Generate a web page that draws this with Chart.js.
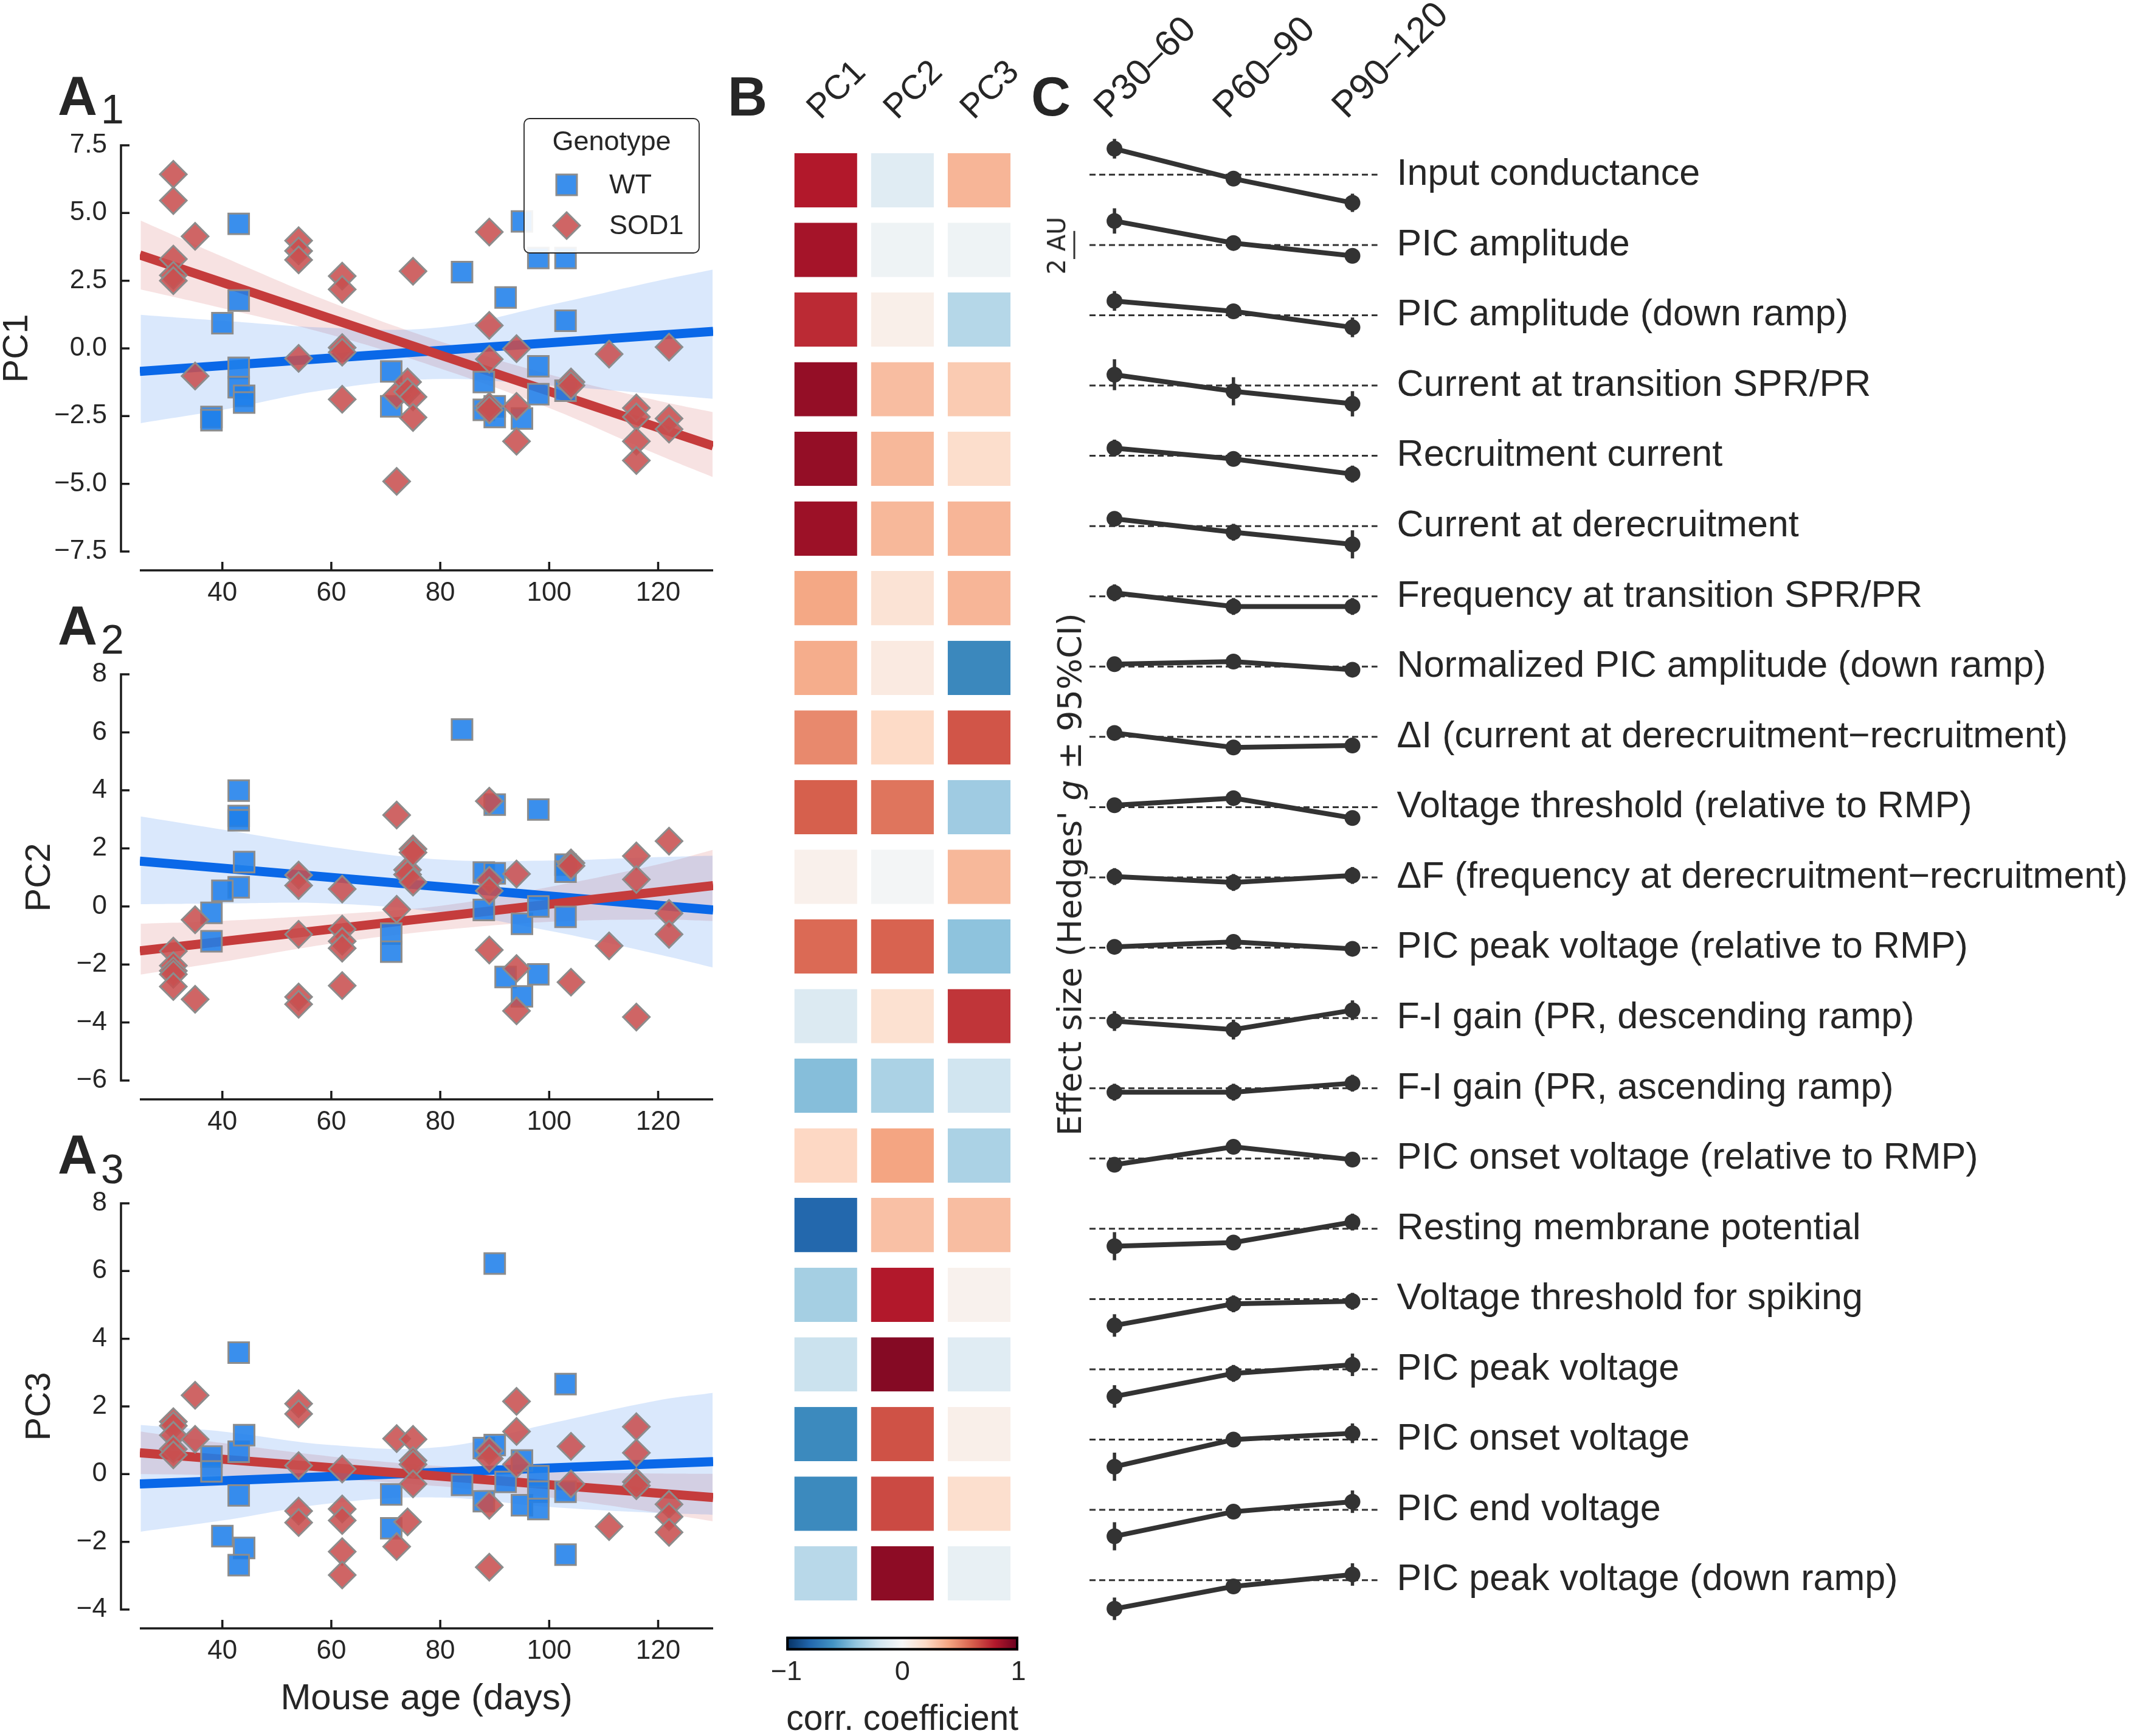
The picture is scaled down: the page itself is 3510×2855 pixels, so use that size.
<!DOCTYPE html>
<html>
<head>
<meta charset="utf-8">
<title>PCA of motoneuron properties vs age</title>
<script src="https://cdn.jsdelivr.net/npm/chart.js@4.4.1/dist/chart.umd.min.js"></script>
<style>
  html, body { margin: 0; padding: 0; background: #fff; }
  body { position: relative; width: 3510px; height: 2855px; overflow: hidden;
         font-family: "Liberation Sans", Arial, sans-serif; color: #262626; }
  canvas { position: absolute; }
  .letter { position: absolute; font-weight: bold; font-size: 90px; line-height: 1; }
  .sub { position: absolute; font-size: 68px; line-height: 1; }
  .vtext { position: absolute; white-space: nowrap; line-height: 1;
           font-family: "DejaVu Sans", sans-serif;
           transform: translate(-50%, -50%) rotate(-90deg); }
</style>
</head>
<body>
<canvas id="a1" width="1200" height="870" style="left:0;top:130px"></canvas>
<canvas id="a2" width="1200" height="870" style="left:0;top:1000px"></canvas>
<canvas id="a3" width="1200" height="985" style="left:0;top:1870px"></canvas>
<canvas id="heat" width="530" height="2680" style="left:1200px;top:0"></canvas>
<canvas id="cbar" width="520" height="185" style="left:1230px;top:2670px"></canvas>
<canvas id="fx" width="1810" height="2700" style="left:1700px;top:0"></canvas>

<div class="letter" style="left:95px;top:113px">A</div><div class="sub" style="left:166px;top:145px">1</div>
<div class="letter" style="left:95px;top:984px">A</div><div class="sub" style="left:166px;top:1017px">2</div>
<div class="letter" style="left:95px;top:1854px">A</div><div class="sub" style="left:166px;top:1888px">3</div>
<div class="letter" style="left:1197px;top:114px">B</div>
<div class="letter" style="left:1696px;top:114px">C</div>
<div class="vtext" style="left:1738px;top:404px;font-size:40px">2 AU</div>
<div class="vtext" style="left:1760px;top:1438px;font-size:54px">Effect size (Hedges' <i>g</i> ± 95%CI)</div>

<script>
// ---------- Panel A: PC scores against mouse age ----------
let age_ticks = [40, 60, 80, 100, 120]
let x_min = 24.85
let x_max = 130.1

// regression line ends and confidence band sample ages
let fit_age = [24.85, 130.1]
let band_age = [25, 40, 60, 80, 100, 120, 130]

// A1 (PC1)
let a1_wt_age = [43, 43, 40, 43, 43, 44, 44, 38, 38, 71, 71, 84, 92, 88, 88, 90, 90, 95, 95, 98, 98, 98, 103, 103, 103]
let a1_wt_val = [4.6, 1.77, 0.93, -0.72, -1.43, -1.75, -2.0, -2.53, -2.65, -0.85, -2.14, 2.82, 1.88, -1.24, -2.27, -2.14, -2.53, 4.69, -2.59, 3.34, -0.66, -1.69, 3.34, 1.02, -1.56]
let a1_sod_age = [31, 31, 31, 31, 31, 35, 35, 54, 54, 54, 54, 62, 62, 62, 62, 62, 72, 72, 74, 74, 75, 75, 75, 89, 89, 89, 89, 89, 94, 94, 94, 104, 104, 111, 116, 116, 116, 116, 122, 122, 122]
let a1_sod_val = [6.43, 5.46, 3.3, 2.7, 2.5, 4.14, -1.02, 3.98, 3.6, 3.27, -0.37, 2.67, 2.18, 0.03, -0.14, -1.88, -4.91, -1.73, -1.24, -1.6, -1.79, -2.55, 2.85, 4.3, 0.85, -0.4, -2.14, -2.27, -0.01, -2.14, -3.43, -1.24, -1.37, -0.21, -2.2, -2.53, -3.43, -4.14, 0.05, -2.59, -2.98]
let a1_wt_fit = [-0.85, 0.63]
let a1_sod_fit = [3.45, -3.6]
let a1_wt_hi = [1.24, 1.02, 0.76, 0.78, 1.6, 2.5, 2.91]
let a1_wt_lo = [-2.76, -2.27, -1.5, -1.13, -1.37, -1.69, -1.86]
let a1_sod_hi = [4.72, 3.39, 1.7, 0.26, -0.96, -1.93, -2.35]
let a1_sod_lo = [2.18, 1.49, 0.5, -0.74, -2.2, -3.93, -4.75]
let a1_yticks = [-7.5, -5, -2.5, 0, 2.5, 5, 7.5]

// A2 (PC2)
let a2_wt_age = [43, 43, 43, 44, 43, 40, 38, 38, 71, 71, 84, 88, 90, 90, 88, 92, 95, 95, 98, 98, 98, 103, 103, 103]
let a2_wt_val = [3.99, 3.12, 2.97, 1.53, 0.66, 0.54, -0.22, -1.2, -0.94, -1.56, 6.1, 1.17, 1.14, 3.51, -0.12, -2.43, -0.6, -3.1, 3.34, 0.0, -2.34, 1.44, 1.2, -0.36]
let a2_sod_age = [31, 31, 31, 31, 31, 35, 35, 54, 54, 54, 54, 54, 62, 62, 62, 62, 62, 72, 72, 74, 74, 75, 75, 75, 89, 89, 89, 89, 94, 94, 94, 104, 104, 104, 111, 116, 116, 116, 122, 122, 122]
let a2_sod_val = [-1.54, -2.04, -2.22, -2.34, -2.76, -0.46, -3.2, 1.08, 0.72, -0.96, -3.12, -3.37, 0.6, -0.78, -1.2, -1.44, -2.73, 3.15, -0.1, 1.26, 1.1, 1.98, 1.86, 0.84, 3.63, 0.9, 0.54, -1.5, 1.12, -2.14, -3.6, 1.5, 1.4, -2.61, -1.36, 1.74, 0.93, -3.81, 2.25, -0.24, -0.96]
let a2_wt_fit = [1.56, -0.12]
let a2_sod_fit = [-1.53, 0.72]
let a2_wt_hi = [3.1, 2.65, 2.05, 1.62, 1.58, 1.7, 1.75]
let a2_wt_lo = [0.08, 0.1, 0.1, -0.2, -0.84, -1.65, -2.1]
let a2_sod_hi = [-0.6, -0.5, -0.28, 0.02, 0.67, 1.45, 1.95]
let a2_sod_lo = [-2.35, -1.91, -1.28, -0.82, -0.53, -0.45, -0.5]
let a2_yticks = [-6, -4, -2, 0, 2, 4, 6, 8]

// A3 (PC3)
let a3_wt_age = [43, 43, 44, 38, 38, 43, 40, 44, 43, 71, 71, 84, 90, 88, 90, 88, 92, 95, 95, 98, 98, 98, 103, 103, 103]
let a3_wt_val = [3.59, 0.66, 1.15, 0.52, 0.08, -0.63, -1.83, -2.18, -2.69, -0.6, -1.6, -0.32, 6.22, 0.77, 0.86, -0.8, -0.23, 0.4, -0.92, -0.06, -0.52, -1.03, 2.66, -0.52, -2.38]
let a3_sod_age = [31, 31, 31, 31, 31, 35, 35, 54, 54, 54, 54, 54, 62, 62, 62, 62, 62, 72, 72, 74, 75, 75, 75, 75, 89, 89, 89, 89, 94, 94, 94, 104, 104, 111, 116, 116, 116, 116, 122, 122, 122]
let a3_sod_val = [1.55, 1.43, 1.15, 0.74, 0.57, 2.33, 1.03, 2.08, 1.78, 0.25, -1.09, -1.43, 0.15, -1.03, -1.37, -2.29, -2.98, 1.05, -2.14, -1.41, 1.03, 0.4, 0.29, -0.29, 0.69, 0.46, -0.92, -2.75, 2.15, 1.26, 0.29, 0.82, -0.29, -1.55, 1.4, 0.63, -0.23, -0.34, -0.89, -1.26, -1.72]
let a3_wt_fit = [-0.29, 0.37]
let a3_sod_fit = [0.63, -0.69]
let a3_wt_hi = [1.45, 1.26, 0.86, 0.8, 1.49, 2.18, 2.4]
let a3_wt_lo = [-1.7, -1.37, -0.86, -0.69, -0.97, -1.15, -1.2]
let a3_sod_hi = [1.26, 0.92, 0.52, 0.24, 0.07, 0.02, 0.01]
let a3_sod_lo = [0.0, -0.04, -0.14, -0.36, -0.69, -1.14, -1.39]
let a3_yticks = [-4, -2, 0, 2, 4, 6, 8]

// ---------- Panel B: correlation of each property with the PCs ----------
let pc_names = ["PC1", "PC2", "PC3"]
let corr_pc1 = [0.80, 0.835, 0.75, 0.88, 0.88, 0.86, 0.39, 0.37, 0.48, 0.60, 0.05, 0.57, -0.14, -0.43, 0.21, -0.79, -0.34, -0.22, -0.64, -0.64, -0.28]
let corr_pc2 = [-0.12, -0.05, 0.06, 0.31, 0.33, 0.33, 0.14, 0.09, 0.20, 0.54, -0.02, 0.59, 0.16, -0.32, 0.40, 0.30, 0.80, 0.92, 0.64, 0.66, 0.90]
let corr_pc3 = [0.34, -0.05, -0.29, 0.26, 0.18, 0.34, 0.34, -0.65, 0.63, -0.36, 0.33, -0.41, 0.72, -0.20, -0.32, 0.31, 0.04, -0.12, 0.06, 0.17, -0.08]
let cbar_ticks = [-1, 0, 1]

// ---------- Panel C: effect size per age group ----------
let c_features = [
    "Input conductance",
    "PIC amplitude",
    "PIC amplitude (down ramp)",
    "Current at transition SPR/PR",
    "Recruitment current",
    "Current at derecruitment",
    "Frequency at transition SPR/PR",
    "Normalized PIC amplitude (down ramp)",
    "\u0394I (current at derecruitment\u2212recruitment)",
    "Voltage threshold (relative to RMP)",
    "\u0394F (frequency at derecruitment\u2212recruitment)",
    "PIC peak voltage (relative to RMP)",
    "F-I gain (PR, descending ramp)",
    "F-I gain (PR, ascending ramp)",
    "PIC onset voltage (relative to RMP)",
    "Resting membrane potential",
    "Voltage threshold for spiking",
    "PIC peak voltage",
    "PIC onset voltage",
    "PIC end voltage",
    "PIC peak voltage (down ramp)"
]
let c_groups = ["P30\u201360", "P60\u201390", "P90\u2013120"]
let g_p30 = [1.85, 1.71, 1.02, 0.77, 0.55, 0.52, 0.25, 0.17, 0.28, 0.14, 0.06, 0.06, -0.22, -0.28, -0.44, -1.24, -1.88, -1.93, -1.93, -1.88, -2.04]
let g_p60 = [-0.28, 0.14, 0.28, -0.41, -0.22, -0.44, -0.72, 0.36, -0.75, 0.64, -0.36, 0.41, -0.83, -0.28, 0.83, -0.98, -0.34, -0.29, 0.0, -0.13, -0.45]
let g_p90 = [-2.0, -0.77, -0.86, -1.3, -1.3, -1.3, -0.72, -0.22, -0.61, -0.77, 0.14, -0.08, 0.55, 0.36, -0.08, 0.48, -0.16, 0.32, 0.45, 0.58, 0.4]
let ci_p30 = [0.7, 0.9, 0.7, 1.1, 0.6, 0.5, 0.6, 0.5, 0.5, 0.5, 0.6, 0.5, 0.7, 0.6, 0.5, 1.0, 0.8, 0.8, 1.0, 1.0, 0.8]
let ci_p60 = [0.5, 0.5, 0.5, 1.0, 0.5, 0.6, 0.6, 0.5, 0.5, 0.5, 0.6, 0.5, 0.7, 0.6, 0.5, 0.5, 0.6, 0.6, 0.5, 0.5, 0.5]
let ci_p90 = [0.65, 0.5, 0.7, 0.9, 0.6, 1.0, 0.6, 0.5, 0.5, 0.5, 0.6, 0.5, 0.7, 0.6, 0.5, 0.6, 0.6, 0.8, 0.7, 0.8, 0.8]
let row_step = 5          // AU between stacked rows
let scale_bar = [-6, -4]  // the 2 AU bar

// ---------- styles ----------
let wt_fill = "rgba(31, 128, 235, 0.88)"
let sod_fill = "rgba(200, 80, 80, 0.88)"
let edge_grey = "#8c8c8c"
let wt_line = "#0a68e8"
let sod_line = "#c53c3c"
let wt_band = "rgba(10, 104, 232, 0.15)"
let sod_band = "rgba(200, 60, 60, 0.15)"
let ink = "#262626"
let c_ink = "#333333"
// RdBu_r colour stops (-1 .. 1)
let rdbu_stops = ["#053061", "#2166ac", "#4393c3", "#92c5de", "#d1e5f0", "#f7f7f7", "#fddbc7", "#f4a582", "#d6604d", "#b2182b", "#67001f"]

Chart.defaults.font.family = '"Liberation Sans", Arial, sans-serif'
Chart.defaults.color = ink
Chart.defaults.animation = false
Chart.defaults.events = []
Chart.defaults.plugins.legend.display = false
Chart.defaults.plugins.tooltip.enabled = false

function pts(xs, ys) {
    return xs.map((x, i) => ({"x": x, "y": ys[i]}))
}

function minus(v, dec) {
    let s = dec ? v.toFixed(dec) : String(v)
    return s.replace("-", "\u2212")
}

function hex_rgb(h) {
    return [parseInt(h.slice(1, 3), 16), parseInt(h.slice(3, 5), 16), parseInt(h.slice(5, 7), 16)]
}

function rdbu(v) {
    let p = Math.max(0, Math.min(1, (v + 1) / 2)) * (rdbu_stops.length - 1)
    let i = Math.min(Math.floor(p), rdbu_stops.length - 2)
    let t = p - i
    let a = hex_rgb(rdbu_stops[i])
    let b = hex_rgb(rdbu_stops[i + 1])
    let c = a.map((ch, k) => Math.round(ch + (b[k] - ch) * t))
    return "rgb(" + c.join(",") + ")"
}

// offset spines with inward ticks, like the seaborn panels
const spines_plugin = {
    id: "spines",
    afterDraw(chart) {
        let ctx = chart.ctx
        let ca = chart.chartArea
        let xs = chart.scales.x
        let ys = chart.scales.y
        let off = 31
        let tl = 14
        let sx = ca.left - off
        let sy = ca.bottom + off
        let yp = ys.ticks.map(t => ys.getPixelForValue(t.value))
        ctx.save()
        ctx.strokeStyle = "#1a1a1a"
        ctx.lineWidth = 3.5
        ctx.beginPath()
        ctx.moveTo(sx, Math.min(...yp) - 1.75)
        ctx.lineTo(sx, Math.max(...yp) + 1.75)
        yp.forEach(p => { ctx.moveTo(sx, p); ctx.lineTo(sx + tl, p) })
        ctx.moveTo(ca.left, sy)
        ctx.lineTo(ca.right, sy)
        xs.ticks.forEach(t => {
            let p = xs.getPixelForValue(t.value)
            ctx.moveTo(p, sy)
            ctx.lineTo(p, sy - tl)
        })
        ctx.stroke()
        ctx.restore()
    }
}

// "Genotype" legend box of panel A1
const legend_plugin = {
    id: "genotype_legend",
    afterDatasetsDraw(chart) {
        let ctx = chart.ctx
        let ca = chart.chartArea
        let bw = 288, bh = 221
        let bx = ca.right - 23 - bw
        let by = ca.top - 44
        ctx.save()
        ctx.beginPath()
        ctx.roundRect(bx, by, bw, bh, 9)
        ctx.fillStyle = "rgba(255,255,255,0.9)"
        ctx.fill()
        ctx.lineWidth = 1.8
        ctx.strokeStyle = ink
        ctx.stroke()

        ctx.fillStyle = ink
        ctx.font = '45px "Liberation Sans", Arial, sans-serif'
        ctx.textBaseline = "alphabetic"
        ctx.textAlign = "center"
        ctx.fillText("Genotype", bx + bw / 2, ca.top + 8)
        ctx.textAlign = "left"

        let entries = chart.data.datasets.filter(d => d.legend_entry)
        entries.forEach((d, k) => {
            let cx = bx + 70
            let cy = ca.top + 65 + k * 67
            ctx.beginPath()
            if (d.pointStyle == "rect") {
                let s = d.pointRadius * Math.SQRT1_2
                ctx.rect(cx - s, cy - s, 2 * s, 2 * s)
            } else {
                let r = d.pointRadius
                ctx.moveTo(cx, cy - r); ctx.lineTo(cx + r, cy); ctx.lineTo(cx, cy + r); ctx.lineTo(cx - r, cy); ctx.closePath()
            }
            ctx.fillStyle = d.backgroundColor
            ctx.fill()
            ctx.lineWidth = d.borderWidth
            ctx.strokeStyle = d.borderColor
            ctx.stroke()
            ctx.fillStyle = ink
            ctx.fillText(d.label, bx + 140, cy + 14)
        })
        ctx.restore()
    }
}

function make_pc_panel(id, p) {
    let band = (ys, fill, colour) => ({
        type: "line", data: pts(band_age, ys), borderWidth: 0, pointRadius: 0,
        tension: 0.4, fill: fill, backgroundColor: colour, order: 5
    })
    let datasets = [
        band(p.wt_hi, false, wt_band),
        band(p.wt_lo, "-1", wt_band),
        band(p.sod_hi, false, sod_band),
        band(p.sod_lo, "-1", sod_band),
        {type: "line", data: pts(fit_age, p.wt_fit), borderColor: wt_line, borderWidth: 15, pointRadius: 0, order: 3},
        {type: "line", data: pts(fit_age, p.sod_fit), borderColor: sod_line, borderWidth: 15, pointRadius: 0, order: 2},
        {label: "WT", legend_entry: true, data: pts(p.wt_age, p.wt_val), pointStyle: "rect", pointRadius: 24,
            backgroundColor: wt_fill, borderColor: edge_grey, borderWidth: 3, order: 1},
        {label: "SOD1", legend_entry: true, data: pts(p.sod_age, p.sod_val), pointStyle: "rectRot", pointRadius: 22,
            backgroundColor: sod_fill, borderColor: edge_grey, borderWidth: 3, order: 0}
    ]
    let plugins = [spines_plugin]
    if (p.legend) plugins.push(legend_plugin)

    new Chart(id, {
        type: "scatter",
        data: {datasets: datasets},
        options: {
            responsive: false,
            devicePixelRatio: 1,
            layout: {padding: {left: 0, right: 24, top: 109, bottom: 0}},
            scales: {
                x: {
                    type: "linear", min: x_min, max: x_max,
                    afterBuildTicks: s => { s.ticks = age_ticks.map(v => ({value: v})) },
                    afterFit: s => { s.height = p.xh; s.paddingLeft = 0; s.paddingRight = 0; s.paddingTop = 0; s.paddingBottom = 0 },
                    grid: {display: false, drawTicks: false},
                    border: {display: false},
                    ticks: {font: {size: 44}, padding: 42, maxRotation: 0, autoSkip: false},
                    title: {display: !!p.xtitle, text: p.xtitle || "", font: {size: 60, lineHeight: 1}, padding: {top: 0, bottom: 31}}
                },
                y: {
                    type: "linear", min: p.yticks[0], max: p.yticks[p.yticks.length - 1],
                    afterBuildTicks: s => { s.ticks = p.yticks.map(v => ({value: v})) },
                    afterFit: s => { s.width = 230; s.paddingLeft = 0; s.paddingRight = 0; s.paddingTop = 0; s.paddingBottom = 0 },
                    grid: {display: false, drawTicks: false},
                    border: {display: false},
                    ticks: {font: {size: 44}, padding: 54, autoSkip: false, callback: v => minus(v, p.dec)},
                    title: {display: true, text: p.ytitle, font: {size: 58, lineHeight: 1}, padding: {top: p.ytpad, bottom: 0}}
                }
            }
        },
        plugins: plugins
    })
}

make_pc_panel("a1", {
    wt_age: a1_wt_age, wt_val: a1_wt_val, sod_age: a1_sod_age, sod_val: a1_sod_val,
    wt_fit: a1_wt_fit, sod_fit: a1_sod_fit, wt_hi: a1_wt_hi, wt_lo: a1_wt_lo, sod_hi: a1_sod_hi, sod_lo: a1_sod_lo,
    yticks: a1_yticks, dec: 1, ytitle: "PC1", ytpad: 0, xh: 93, legend: true
})
make_pc_panel("a2", {
    wt_age: a2_wt_age, wt_val: a2_wt_val, sod_age: a2_sod_age, sod_val: a2_sod_val,
    wt_fit: a2_wt_fit, sod_fit: a2_sod_fit, wt_hi: a2_wt_hi, wt_lo: a2_wt_lo, sod_hi: a2_sod_hi, sod_lo: a2_sod_lo,
    yticks: a2_yticks, dec: 0, ytitle: "PC2", ytpad: 37, xh: 93
})
make_pc_panel("a3", {
    wt_age: a3_wt_age, wt_val: a3_wt_val, sod_age: a3_sod_age, sod_val: a3_sod_val,
    wt_fit: a3_wt_fit, sod_fit: a3_sod_fit, wt_hi: a3_wt_hi, wt_lo: a3_wt_lo, sod_hi: a3_sod_hi, sod_lo: a3_sod_lo,
    yticks: a3_yticks, dec: 0, ytitle: "PC3", ytpad: 37, xh: 208, xtitle: "Mouse age (days)"
})

// Heatmap: one stacked horizontal bar per cell, coloured by correlation
new Chart("heat", {
    type: "bar",
    data: {
        labels: c_features,
        datasets: [corr_pc1, corr_pc2, corr_pc3].map((c, k) => ({
            label: pc_names[k],
            data: c.map(() => 1),
            backgroundColor: c.map(rdbu),
            borderColor: "#ffffff",
            borderWidth: {left: 11.5, right: 11.5, top: 0, bottom: 0},
            borderSkipped: false,
            barPercentage: 0.78,
            categoryPercentage: 1
        }))
    },
    options: {
        indexAxis: "y",
        responsive: false,
        devicePixelRatio: 1,
        layout: {padding: {left: 95.2, right: 56.5, top: 0, bottom: 35.2}},
        scales: {
            x: {
                type: "linear", stacked: true, position: "top", min: 0, max: 3,
                afterBuildTicks: s => { s.ticks = pc_names.map((_, k) => ({value: k + 0.5})) },
                afterFit: s => { s.height = 239.2; s.paddingLeft = 0; s.paddingRight = 0; s.paddingTop = 0; s.paddingBottom = 0 },
                grid: {display: false, drawTicks: false},
                border: {display: false},
                ticks: {font: {size: 56, lineHeight: 0.5}, padding: 42, minRotation: 45, maxRotation: 45, autoSkip: false,
                    callback: (v, i) => pc_names[i]}
            },
            y: {stacked: true, display: false}
        }
    }
})

// colour bar under the heatmap
const colorbar_plugin = {
    id: "colorbar",
    beforeDraw(chart) {
        let ctx = chart.ctx
        let ca = chart.chartArea
        let g = ctx.createLinearGradient(ca.left, 0, ca.right, 0)
        rdbu_stops.forEach((c, i) => g.addColorStop(i / (rdbu_stops.length - 1), c))
        ctx.save()
        ctx.fillStyle = g
        ctx.fillRect(ca.left, ca.top, ca.right - ca.left, ca.bottom - ca.top)
        ctx.lineWidth = 4
        ctx.strokeStyle = "#000000"
        ctx.strokeRect(ca.left + 2, ca.top + 2, ca.right - ca.left - 4, ca.bottom - ca.top - 4)
        ctx.restore()
    }
}

new Chart("cbar", {
    type: "scatter",
    data: {datasets: []},
    options: {
        responsive: false,
        devicePixelRatio: 1,
        layout: {padding: {left: 63.3, right: 75, top: 21.7, bottom: 0}},
        scales: {
            x: {
                type: "linear", min: -1, max: 1,
                afterBuildTicks: s => { s.ticks = cbar_ticks.map(v => ({value: v})) },
                afterFit: s => { s.height = 140.7; s.paddingLeft = 0; s.paddingRight = 0; s.paddingTop = 0; s.paddingBottom = 0 },
                grid: {display: false, drawTicks: false},
                border: {display: false},
                ticks: {font: {size: 45}, padding: 9, maxRotation: 0, autoSkip: false, callback: v => minus(v, 0)},
                title: {display: true, text: "corr. coefficient", font: {size: 60, lineHeight: 0.9}, padding: {top: 0, bottom: 0}}
            },
            y: {display: false, min: 0, max: 1}
        }
    },
    plugins: [colorbar_plugin]
})

// zero lines, 95% CI bars and the 2 AU scale bar of panel C
const effect_plugin = {
    id: "effect",
    beforeDatasetsDraw(chart) {
        let ctx = chart.ctx
        let ca = chart.chartArea
        let xs = chart.scales.x
        let ys = chart.scales.y
        ctx.save()
        ctx.strokeStyle = c_ink
        ctx.lineWidth = 3
        ctx.setLineDash([10, 6])
        c_features.forEach((_, i) => {
            let py = ys.getPixelForValue(-row_step * i)
            ctx.beginPath()
            ctx.moveTo(ca.left, py)
            ctx.lineTo(ca.right, py)
            ctx.stroke()
        })
        ctx.setLineDash([])
        ctx.lineWidth = 5.5
        let groups = [g_p30, g_p60, g_p90]
        let cis = [ci_p30, ci_p60, ci_p90]
        groups.forEach((g, j) => {
            let px = xs.getPixelForValue(j)
            g.forEach((v, i) => {
                let off = -row_step * i
                ctx.beginPath()
                ctx.moveTo(px, ys.getPixelForValue(v + off - cis[j][i]))
                ctx.lineTo(px, ys.getPixelForValue(v + off + cis[j][i]))
                ctx.stroke()
            })
        })
        ctx.lineWidth = 3
        let bx = ca.left - 25
        ctx.beginPath()
        ctx.moveTo(bx, ys.getPixelForValue(scale_bar[0]))
        ctx.lineTo(bx, ys.getPixelForValue(scale_bar[1]))
        ctx.stroke()
        ctx.restore()
    }
}

new Chart("fx", {
    type: "scatter",
    data: {
        datasets: c_features.map((name, i) => ({
            label: name,
            showLine: true,
            data: [g_p30, g_p60, g_p90].map((g, j) => ({x: j, y: g[i] - row_step * i})),
            borderColor: c_ink,
            borderWidth: 8,
            pointRadius: 13,
            pointBackgroundColor: c_ink,
            pointBorderWidth: 0
        }))
    },
    options: {
        responsive: false,
        devicePixelRatio: 1,
        layout: {padding: {left: 92, right: 0, top: 0, bottom: 32}},
        scales: {
            x: {
                type: "linear", position: "top", min: -0.21, max: 2.21,
                afterBuildTicks: s => { s.ticks = c_groups.map((_, j) => ({value: j})) },
                afterFit: s => { s.height = 218; s.paddingLeft = 0; s.paddingRight = 0; s.paddingTop = 0; s.paddingBottom = 0 },
                grid: {display: false, drawTicks: false},
                border: {display: false},
                ticks: {font: {size: 60, lineHeight: 0.5}, padding: 22, minRotation: 45, maxRotation: 45, autoSkip: false,
                    callback: (v, i) => c_groups[i]}
            },
            y: {
                type: "linear", position: "right", min: -103, max: 3,
                afterBuildTicks: s => { s.ticks = c_features.map((_, i) => ({value: -row_step * i})) },
                afterFit: s => { s.width = 1244.4; s.paddingLeft = 0; s.paddingRight = 0; s.paddingTop = 0; s.paddingBottom = 0 },
                grid: {display: false, drawTicks: false},
                border: {display: false},
                ticks: {font: {size: 61}, padding: 32, autoSkip: false, callback: (v, i) => c_features[i]}
            }
        }
    },
    plugins: [effect_plugin]
})
</script>
</body>
</html>
